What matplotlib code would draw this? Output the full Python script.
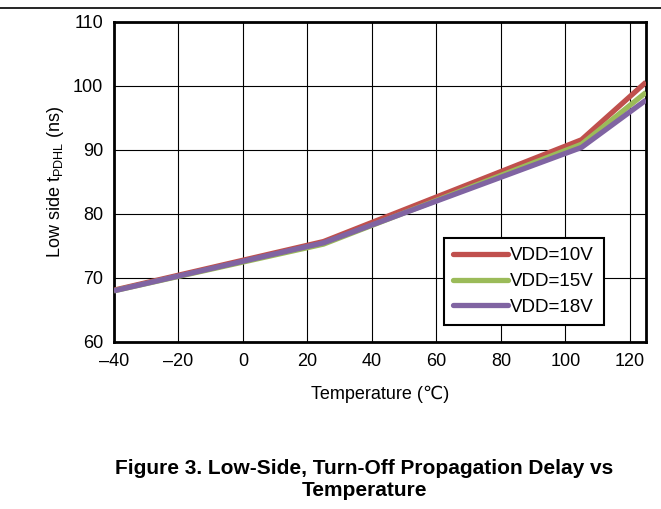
import matplotlib
matplotlib.use("Agg")
import matplotlib.pyplot as plt
from matplotlib.lines import Line2D

temps = [-40, 25, 105, 125]
vdd10 = [68.1, 75.7, 91.6, 100.6]
vdd15 = [68.0, 75.3, 90.9, 99.0]
vdd18 = [68.0, 75.5, 90.4, 97.8]
labels = ["VDD=10V", "VDD=15V", "VDD=18V"]
colors = ["#C0504D", "#9BBB59", "#8064A2"]
xticks = [-40, -20, 0, 20, 40, 60, 80, 100, 120]
yticks = [60, 70, 80, 90, 100, 110]

plt.rcParams['font.family'] = ['Liberation Sans', 'DejaVu Sans']

fig = plt.figure(figsize=(6.61, 5.09), dpi=100)
W, H = 661, 509
ax = fig.add_axes([114 / W, 1 - 342 / H, (646 - 114) / W, (342 - 22) / H])

for ys, lab, c in zip([vdd10, vdd15, vdd18], labels, colors):
    ax.plot(temps, ys, color=c, lw=3.8, label=lab, solid_capstyle='butt', zorder=3)

ax.set_xlim(-40, 125)
ax.set_ylim(60, 110)
ax.set_xticks(xticks)
ax.set_xticklabels([str(t).replace('-', '\u2013') for t in xticks])
ax.set_yticks(yticks)
ax.tick_params(length=0, labelsize=13, pad=8)
ax.grid(True, color='black', lw=0.8)
for s in ax.spines.values():
    s.set_linewidth(2)
    s.set_color('black')

ax.set_xlabel("Temperature (\u2103)", fontsize=13, labelpad=11)
ax.set_ylabel("Low side t$_{\\mathregular{PDHL}}$ (ns)", fontsize=13, labelpad=5)

handles = [Line2D([0], [0], color=c, lw=3.8, solid_capstyle='round') for c in colors]
leg = ax.legend(handles, labels, loc='upper left', bbox_to_anchor=(0.62, 0.325),
                fontsize=13.5, frameon=True, fancybox=False, handlelength=2.9,
                handletextpad=0.15, borderpad=0.5, labelspacing=0.45, borderaxespad=0)
leg.get_frame().set_edgecolor('black')
leg.get_frame().set_linewidth(1.5)
leg.get_frame().set_alpha(1)

fig.add_artist(Line2D([0, 1], [1 - 8 / H, 1 - 8 / H], color='black', lw=1.2))

fig.text(364 / W, 1 - 468 / H, "Figure 3. Low-Side, Turn-Off Propagation Delay vs",
         ha='center', va='center', fontsize=15, fontweight='bold')
fig.text(364 / W, 1 - 491 / H, "Temperature",
         ha='center', va='center', fontsize=15, fontweight='bold')

fig.savefig("out.png", dpi=100)
